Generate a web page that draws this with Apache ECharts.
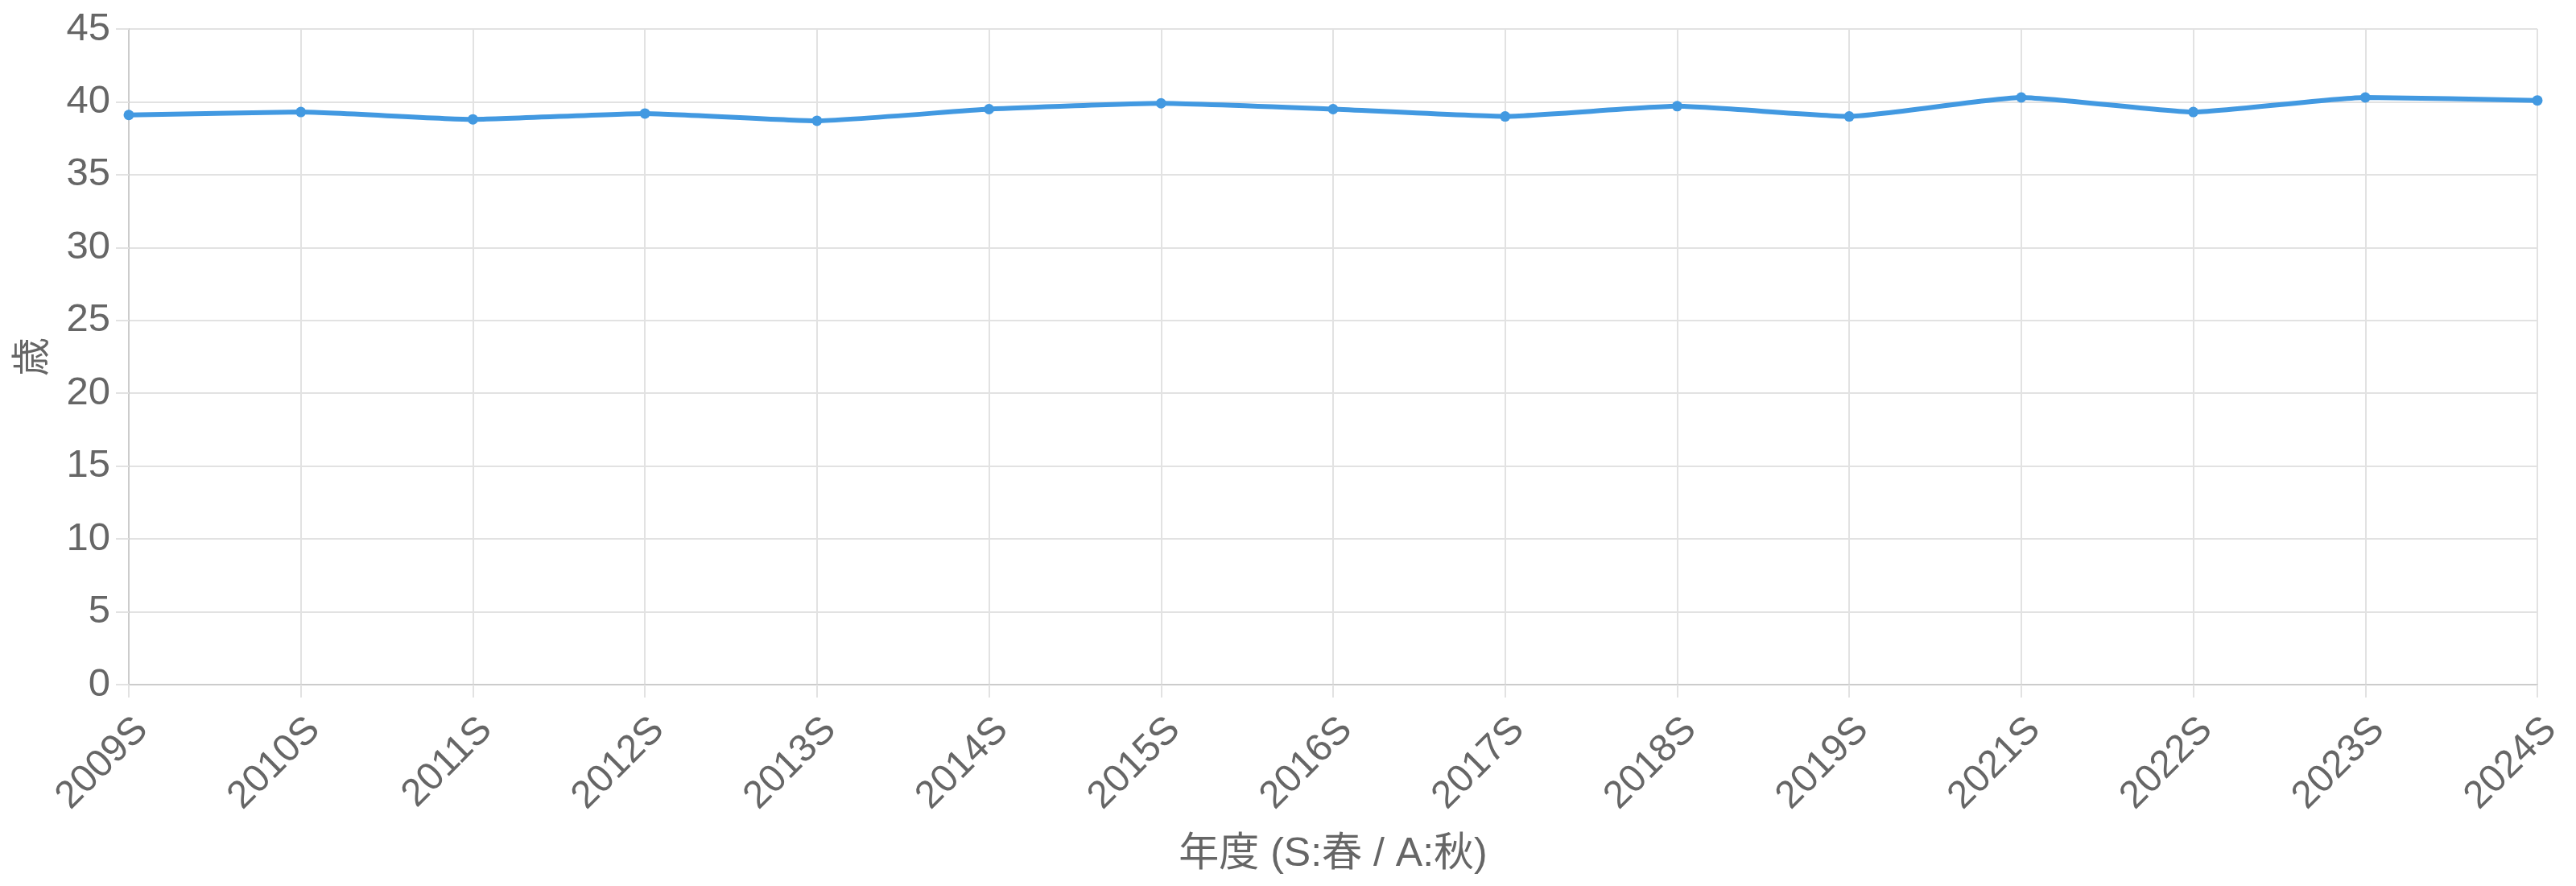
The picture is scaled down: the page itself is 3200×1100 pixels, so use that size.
<!DOCTYPE html>
<html>
<head>
<meta charset="utf-8">
<title>平均年齢</title>
<script src="https://cdn.jsdelivr.net/npm/echarts@6/dist/echarts.min.js"></script>
<style>
  html, body { margin: 0; padding: 0; background: #fff; }
  #main { width: 3200px; height: 1100px; }
</style>
</head>
<body>
<div id="main"></div>
<script>
// 年度ラベル (S:春 / A:秋)
var seasons = ['2009S', '2010S', '2011S', '2012S', '2013S', '2014S', '2015S', '2016S',
               '2017S', '2018S', '2019S', '2021S', '2022S', '2023S', '2024S'];
// 平均年齢 (歳)
var ages = [39.1, 39.3, 38.8, 39.2, 38.7, 39.5, 39.9, 39.5, 39.0, 39.7, 39.0, 40.3, 39.3, 40.3, 40.1];

var yMin = 0, yMax = 45, yStep = 5;

var fontFamily = '"Liberation Sans", Arial, "Noto Sans CJK JP", sans-serif';
var textColor = '#666';
var gridColor = '#e2e2e2';

var option = {
    backgroundColor: '#fff',
    animation: false,
    grid: {
        left: 160,
        right: 48,
        top: 36,
        bottom: 250,
        containLabel: false
    },
    xAxis: {
        type: 'category',
        data: seasons,
        boundaryGap: false,
        name: '年度 (S:春 / A:秋)',
        nameLocation: 'middle',
        nameGap: 186,
        nameTextStyle: { color: textColor, fontSize: 50, fontFamily: fontFamily },
        axisLine: { lineStyle: { color: '#cccccc', width: 2 } },
        axisTick: { show: true, alignWithLabel: true, length: 16, lineStyle: { color: gridColor, width: 2 } },
        axisLabel: {
            rotate: 45,
            margin: 65,
            interval: 0,
            color: textColor,
            fontSize: 48,
            fontFamily: fontFamily,
            padding: [0, -23, 0, 0]
        },
        splitLine: { show: true, lineStyle: { color: gridColor, width: 2 } }
    },
    yAxis: {
        type: 'value',
        min: yMin,
        max: yMax,
        interval: yStep,
        name: '歳',
        nameLocation: 'middle',
        nameGap: 94,
        nameTextStyle: { color: textColor, fontSize: 48, fontFamily: fontFamily },
        axisLine: { show: true, lineStyle: { color: '#cccccc', width: 2 } },
        axisTick: { show: true, length: 16, lineStyle: { color: gridColor, width: 2 } },
        axisLabel: { color: textColor, fontSize: 49, margin: 23, fontFamily: fontFamily },
        splitLine: { show: true, lineStyle: { color: gridColor, width: 2 } }
    },
    series: [{
        name: '平均年齢',
        type: 'line',
        data: ages,
        smooth: 0.15,
        symbol: 'circle',
        symbolSize: 13,
        itemStyle: { color: '#4299e1' },
        lineStyle: { color: '#4299e1', width: 6 }
    }]
};

var myChart = echarts.init(document.getElementById('main'));
myChart.setOption(option);
</script>
</body>
</html>
